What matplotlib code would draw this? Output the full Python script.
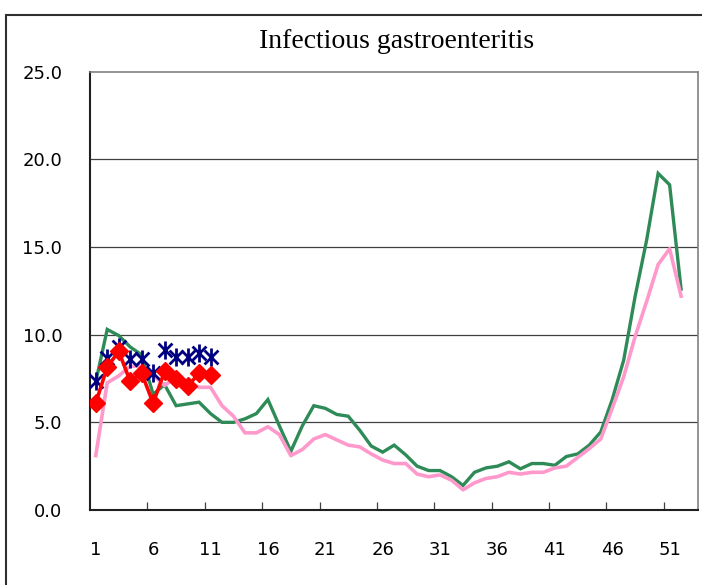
import numpy as num
import matplotlib
matplotlib.use('Agg')
import matplotlib.pyplot as plt
from matplotlib.path import Path
from matplotlib.patches import Rectangle


title = 'Infectious gastroenteritis'

weeks = num.arange(1, 53)

# green line: current season
green_vals = [
    7.3, 10.3, 9.95, 9.3, 8.85, 6.6, 7.15, 5.95, 6.05, 6.15,
    5.5, 5.0, 5.0, 5.2, 5.5, 6.3, 4.8, 3.35, 4.8, 5.95,
    5.8, 5.45, 5.35, 4.55, 3.65, 3.3, 3.7, 3.15, 2.5, 2.25,
    2.25, 1.9, 1.4, 2.15, 2.4, 2.5, 2.75, 2.35, 2.65, 2.65,
    2.55, 3.05, 3.2, 3.7, 4.45, 6.3, 8.55, 12.2, 15.4, 19.2,
    18.55, 12.6]

# pink line: average
pink_vals = [
    3.1, 7.25, 7.65, 8.2, 8.2, 7.7, 7.1, 7.6, 7.3, 7.0,
    7.0, 5.95, 5.35, 4.4, 4.4, 4.75, 4.3, 3.1, 3.45, 4.05,
    4.3, 4.0, 3.7, 3.6, 3.2, 2.85, 2.65, 2.65, 2.05, 1.9,
    2.0, 1.7, 1.15, 1.55, 1.8, 1.9, 2.15, 2.05, 2.15, 2.15,
    2.4, 2.5, 3.0, 3.5, 4.05, 5.8, 7.6, 9.9, 11.9, 14.0,
    14.9, 12.2]

red_weeks = num.arange(1, 12)
red_vals = [6.1, 8.15, 9.05, 7.35, 7.8, 6.1, 7.9, 7.5, 7.05, 7.8, 7.7]

navy_weeks = num.arange(1, 12)
navy_vals = [7.35, 8.65, 9.3, 8.6, 8.6, 7.8, 9.1, 8.7, 8.7, 8.95, 8.75]

xtick_labels = [str(w) for w in range(1, 52, 5)]
ytick_vals = [0., 5., 10., 15., 20., 25.]

tick_font = ['Liberation Sans Narrow', 'DejaVu Sans']
title_font = ['Liberation Serif', 'DejaVu Serif']

# asterisk marker like the spreadsheet one: X plus a vertical bar
star = Path(
    [(-1, -1), (1, 1), (-1, 1), (1, -1), (0, -1.3), (0, 1.3)],
    [Path.MOVETO, Path.LINETO, Path.MOVETO, Path.LINETO,
     Path.MOVETO, Path.LINETO])

fig = plt.figure(figsize=(7.02, 5.85), dpi=100)
ax = fig.add_axes([90 / 702., 75 / 585., 608.3 / 702., 438.3 / 585.])

ax.plot(weeks, green_vals, color='#2E8B57', lw=2.4, zorder=2,
        solid_joinstyle='miter')
ax.plot(weeks, pink_vals, color='#FF99CC', lw=2.6, zorder=3)
ax.plot(navy_weeks, navy_vals, ls='none', marker=star, ms=13,
        mew=2.0, color='#000080', zorder=4)
ax.plot(red_weeks, red_vals, color='#FF0000', lw=2.6, marker='D', ms=9,
        mec='#FF0000', mfc='#FF0000', zorder=5)

ax.set_xlim(0.5, 53.5)
ax.set_ylim(0., 25.)

ax.set_yticks(ytick_vals)
ax.set_yticklabels(['%.1f' % v for v in ytick_vals], family=tick_font,
                   fontsize=13)
ax.tick_params(axis='y', length=0, pad=20)

ax.set_xticks(num.arange(5.5, 53, 5), minor=False)
ax.set_xticklabels([])
ax.tick_params(axis='x', direction='in', length=6, width=0.9,
               color='#404040')
for i, lab in enumerate(xtick_labels):
    ax.text(1 + 5 * i, -2.3, lab, ha='center', va='center',
            family=tick_font, fontsize=13, clip_on=False)

for v in ytick_vals[1:-1]:
    ax.axhline(v, color='#404040', lw=0.9, zorder=1)

for side in ['top', 'right']:
    ax.spines[side].set_color('#808080')
    ax.spines[side].set_linewidth(1.2)
for side in ['left', 'bottom']:
    ax.spines[side].set_color('#202020')
    ax.spines[side].set_linewidth(1.5)

fig.text(397 / 702., 1 - 41 / 585., title, ha='center', va='center',
         family=title_font, fontsize=20)

frame = Rectangle((5.5 / 702., -0.2), 1.2, 1.2 - 14.5 / 585.,
                  transform=fig.transFigure, fill=False, ec='#303030',
                  lw=1.5, clip_on=False)
fig.patches.append(frame)

fig.savefig('out.png', dpi=100)
